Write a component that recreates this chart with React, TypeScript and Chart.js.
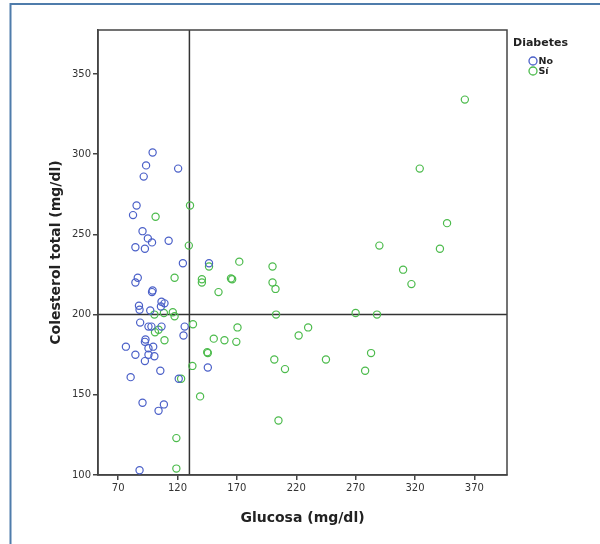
import { useEffect, useRef } from "react";
import { Chart, registerables } from "chart.js";
Chart.register(...registerables);

const glucosaNo = [99, 93.5, 120.5, 91.5, 85.5, 82.5, 90.5, 95, 98.5, 84.5, 92.5, 112.5, 124.5, 146.5, 86.5, 84.5, 99, 98.5, 106.5, 109, 106, 87.5, 88, 97, 88.5, 95.5, 98, 106.5, 126, 125, 93, 92.5, 76.5, 99.5, 95.5, 84.5, 95.5, 100.5, 92.5, 105.5, 80.5, 121, 145.5, 90.5, 108.5, 104, 88];
const colesterolNo = [301, 293, 291, 286, 268, 262, 252, 247.5, 245, 242, 241, 246, 232, 232, 223, 220, 215, 214, 208, 207, 205, 205.5, 203, 202.5, 195, 192.5, 192.5, 192.5, 192.5, 187, 184.5, 183, 180, 180, 179, 175, 175, 174, 171, 165, 161, 160, 167, 145, 144, 140, 103];
const glucosaSi = [130.5, 101.5, 129.5, 146.5, 172, 200, 117.5, 140.5, 140.5, 165, 166, 200, 202.5, 154.5, 100.5, 108.5, 116, 117.5, 203, 133, 170.5, 104, 101, 222, 109, 150.5, 159.5, 169.5, 145, 145.5, 132.5, 201.5, 210.5, 139, 205, 123, 119, 119, 362, 324, 347, 290, 341, 310, 317, 270, 288, 230, 245, 283, 278];
const colesterolSi = [268, 261, 243, 230, 233, 230, 223, 222, 220, 222.5, 222, 220, 216, 214, 200, 201, 201.5, 199, 200, 194, 192, 190.5, 189, 187, 184, 185, 184, 183, 176.5, 176, 168, 172, 166, 149, 134, 160, 123, 104, 334, 291, 257, 243, 241, 228, 219, 201, 200, 192, 172, 176, 165];
const xTicks = [70, 120, 170, 220, 270, 320, 370];
const yTicks = [100, 150, 200, 250, 300, 350];
const seriesLabels = ["No", "Sí"];
const legendTitle = "Diabetes";
const xTitle = "Glucosa (mg/dl)";
const yTitle = "Colesterol total (mg/dl)";
const refGlucosa = 130;
const refColesterol = 200;

const BLUE = "#4b60c8";
const GREEN = "#4cbb4c";
const AXIS = "#444";
const FONT = '"DejaVu Sans", sans-serif';

export default function App() {
  const ref = useRef<HTMLCanvasElement>(null);
  useEffect(() => {
    document.body.style.margin = "0";
    const canvas = ref.current!;
    const overlay = {
      id: "overlay",
      beforeDatasetsDraw(chart: any) {
        const { ctx, chartArea: a, scales } = chart;
        const x = scales.x.getPixelForValue(refGlucosa);
        const y = scales.y.getPixelForValue(refColesterol);
        ctx.save();
        ctx.strokeStyle = "#333";
        ctx.lineWidth = 1.5;
        ctx.beginPath();
        ctx.moveTo(x, a.top);
        ctx.lineTo(x, a.bottom);
        ctx.moveTo(a.left, y);
        ctx.lineTo(a.right, y);
        ctx.stroke();
        ctx.strokeStyle = AXIS;
        ctx.strokeRect(a.left, a.top, a.right - a.left, a.bottom - a.top);
        ctx.restore();
      },
      afterDraw(chart: any) {
        const { ctx } = chart;
        ctx.save();
        // frame
        ctx.strokeStyle = "#4f7cab";
        ctx.lineWidth = 2;
        ctx.beginPath();
        ctx.moveTo(600, 4);
        ctx.lineTo(10.5, 4);
        ctx.lineTo(10.5, 544);
        ctx.stroke();
        // legend
        ctx.fillStyle = "#222";
        ctx.textBaseline = "middle";
        ctx.font = `bold 11px ${FONT}`;
        ctx.fillText(legendTitle, 513, 43);
        const colors = [BLUE, GREEN];
        ctx.font = `bold 9.5px ${FONT}`;
        seriesLabels.forEach((lab, i) => {
          const cy = 61 + i * 10;
          ctx.strokeStyle = colors[i];
          ctx.lineWidth = 1.3;
          ctx.beginPath();
          ctx.arc(533, cy, 4, 0, Math.PI * 2);
          ctx.stroke();
          ctx.fillStyle = "#222";
          ctx.fillText(lab, 538.5, cy + 0.5);
        });
        ctx.restore();
      },
    };
    const mk = (xs: number[], ys: number[]) => xs.map((v, i) => ({ x: v, y: ys[i] }));
    const chart = new Chart(canvas, {
      type: "scatter",
      data: {
        datasets: [
          { label: seriesLabels[0], data: mk(glucosaNo, colesterolNo), borderColor: BLUE, backgroundColor: "rgba(0,0,0,0)", pointRadius: 3.6, borderWidth: 1.2 },
          { label: seriesLabels[1], data: mk(glucosaSi, colesterolSi), borderColor: GREEN, backgroundColor: "rgba(0,0,0,0)", pointRadius: 3.6, borderWidth: 1.2 },
        ],
      },
      options: {
        responsive: false,
        animation: false,
        events: [],
        layout: { padding: { left: 0, right: 93, top: 30, bottom: 9 } },
        plugins: { legend: { display: false }, tooltip: { enabled: false } },
        scales: {
          x: {
            type: "linear",
            min: 53,
            max: 397.5,
            afterBuildTicks: (s: any) => { s.ticks = xTicks.map((v) => ({ value: v })); },
            afterFit: (s: any) => { s.height = 60; },
            grid: { display: true, drawOnChartArea: false, drawTicks: true, tickLength: 5, color: AXIS, lineWidth: 1.5 },
            border: { display: true, color: AXIS, width: 1.5 },
            ticks: { color: "#333", font: { family: FONT, size: 10 }, padding: 2, maxRotation: 0, autoSkip: false },
            title: { display: true, text: xTitle, color: "#222", font: { family: FONT, size: 14, weight: "bold" }, padding: { top: 0, bottom: 8.6 } },
          },
          y: {
            type: "linear",
            min: 100,
            max: 377.4,
            afterBuildTicks: (s: any) => { s.ticks = yTicks.map((v) => ({ value: v })); },
            afterFit: (s: any) => { s.width = 98; },
            grid: { display: true, drawOnChartArea: false, drawTicks: true, tickLength: 5, color: AXIS, lineWidth: 1.5 },
            border: { display: true, color: AXIS, width: 1.5 },
            ticks: { color: "#333", font: { family: FONT, size: 10 }, padding: 2, autoSkip: false },
            title: { display: true, text: yTitle, color: "#222", font: { family: FONT, size: 14, weight: "bold" }, padding: { top: 47.6, bottom: 0 } },
          },
        },
      },
      plugins: [overlay],
    } as any);
    return () => chart.destroy();
  }, []);
  return (
    <div style={{ position: "relative", width: 600, height: 544 }}>
      <canvas ref={ref} width={600} height={544} />
    </div>
  );
}
